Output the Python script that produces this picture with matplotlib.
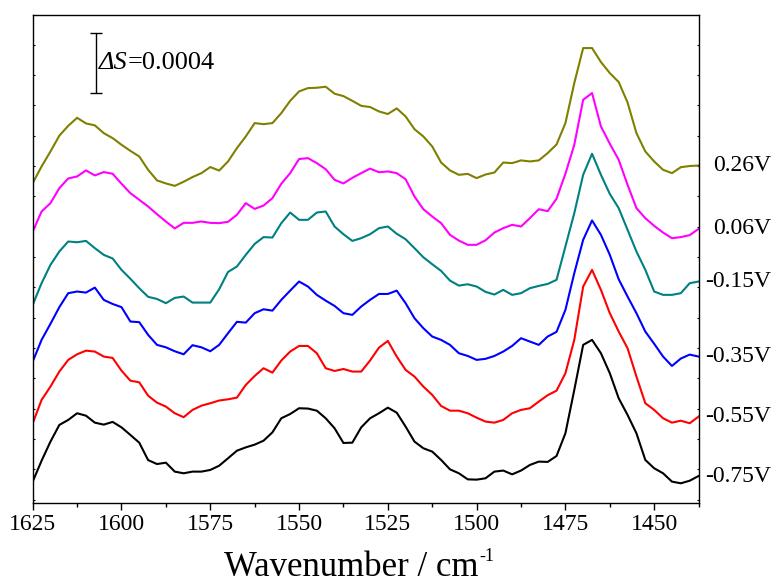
import numpy as np
import matplotlib
matplotlib.use("Agg")
import matplotlib.pyplot as plt
from matplotlib.transforms import blended_transform_factory
from matplotlib.ticker import MultipleLocator

plt.rcParams['font.family'] = ['Liberation Serif', 'DejaVu Serif']

# wavenumber grid, cm-1 (2.5 cm-1 steps from 1625 down to 1437.5)
wavenumber = np.arange(1625, 1437.4, -2.5)

# stacked difference spectra, in units of 1e-4 (offsets already applied)
s_026 = [20.87, 21.97, 22.96, 24.0, 24.65, 25.18, 24.81, 24.68, 24.17, 23.84, 23.40, 23.0, 22.63,
         21.75, 21.05, 20.85, 20.69, 20.96, 21.27, 21.53, 21.93, 21.7, 22.3, 23.18, 23.95, 24.83, 24.76,
         24.83, 25.49, 26.3, 26.92, 27.14, 27.16, 27.23, 26.77, 26.61, 26.3, 25.97, 25.89, 25.6, 25.43,
         25.8, 25.27, 24.43, 23.95, 23.29, 22.23, 21.71, 21.42, 21.48, 21.2, 21.44,
         21.57, 22.23, 22.19, 22.37, 22.3, 22.37, 22.85, 23.42, 24.83, 27.47, 29.78, 29.78, 28.86,
         28.13, 27.54, 26.19, 24.17, 22.96, 22.3, 21.75, 21.53, 21.92, 22.0, 22.03]
s_006 = [17.68, 19.0, 19.55, 20.54, 21.18, 21.31, 21.71, 21.38, 21.6, 21.49, 20.83, 20.21, 19.77,
         19.33, 18.82, 18.34, 17.88, 18.25, 18.25, 18.34, 18.25, 18.23, 18.32, 18.78, 19.55, 19.17, 19.39,
         19.88, 20.83, 21.53, 22.46, 22.52, 22.19, 21.79, 21.09, 20.85, 21.22, 21.53, 21.83, 21.59, 21.64,
         21.53, 21.13, 19.99, 19.15, 18.67, 18.23, 17.46, 17.08, 16.8, 16.8, 17.1,
         17.61, 17.9, 18.12, 18.01, 18.56, 19.15, 19.02, 19.84, 21.49, 23.4, 26.37, 26.81, 24.61,
         23.47, 22.41, 20.76, 19.22, 18.56, 18.05, 17.61, 17.24, 17.31, 17.44, 17.85]
s_m015 = [12.84, 14.27, 15.48, 16.36, 17.02, 16.97, 17.06, 16.58, 16.14, 15.9, 15.15, 14.56, 13.94,
          13.37, 13.23, 12.95, 13.3, 13.39, 12.99, 12.99, 12.99, 13.87, 15.01, 15.37, 16.14, 16.86, 17.31,
          17.28, 18.23, 18.93, 18.45, 18.45, 18.93, 19.0, 18.01, 17.5, 17.06, 17.24, 17.5, 17.9, 18.01,
          17.53, 17.17, 16.58, 15.98, 15.52, 15.08, 14.44, 14.11, 14.2, 14.05, 13.7,
          13.52, 13.83, 13.5, 13.61, 13.94, 14.09, 14.22, 14.49, 16.69, 18.89, 21.42, 22.81, 21.42,
          20.16, 19.22, 17.79, 16.36, 15.15, 13.72, 13.5, 13.5, 13.61, 14.27, 14.38]
s_m035 = [9.1, 10.53, 11.59, 12.69, 13.61, 13.72, 13.65, 13.98, 13.17, 12.9, 12.69, 11.74, 11.7,
          10.86, 10.2, 10.04, 9.78, 9.58, 10.18, 10.04, 9.78, 10.2, 10.97, 11.72, 11.67, 12.29, 12.55,
          12.46, 13.17, 13.78, 14.38, 14.05, 13.5, 13.12, 12.77, 12.29, 12.18, 12.73, 13.17, 13.56, 13.56,
          13.78, 12.95, 11.96, 11.3, 10.75, 10.53, 10.2, 9.65, 9.47, 9.21, 9.28,
          9.47, 9.76, 10.13, 10.64, 10.42, 10.2, 10.75, 11.06, 12.51, 14.93, 17.13, 18.41, 17.46,
          16.14, 14.53, 13.39, 12.29, 11.08, 10.27, 9.43, 8.81, 9.3, 9.56, 9.43]
s_m055 = [5.03, 6.57, 7.45, 8.44, 9.21, 9.58, 9.82, 9.76, 9.43, 9.34, 8.5, 7.84, 7.73,
          6.85, 6.39, 6.13, 5.69, 5.43, 5.91, 6.19, 6.35, 6.53, 6.61, 6.72, 7.56, 8.15, 8.66,
          8.37, 9.17, 9.76, 10.13, 10.13, 9.65, 8.66, 8.48, 8.61, 8.44, 8.44, 9.17, 10.02, 10.46,
          9.43, 8.55, 8.11, 7.45, 6.9, 6.17, 5.86, 5.86, 5.69, 5.4, 5.14,
          5.07, 5.25, 5.69, 5.91, 6.02, 6.46, 6.88, 7.18, 8.33, 10.53, 14.05, 15.15, 13.83,
          12.29, 11.08, 9.98, 8.11, 6.35, 5.91, 5.36, 5.07, 5.2, 5.03, 5.47]
s_m075 = [1.18, 2.56, 3.82, 4.92, 5.25, 5.69, 5.53, 5.07, 4.94, 5.12, 4.76, 4.26, 3.75,
          2.6, 2.34, 2.43, 1.84, 1.73, 1.84, 1.84, 1.95, 2.23, 2.72, 3.22, 3.44, 3.62, 3.88,
          4.43, 5.36, 5.64, 6.02, 6.0, 5.86, 5.36, 4.7, 3.73, 3.75, 4.76, 5.36, 5.69, 6.06,
          5.73, 4.81, 3.82, 3.38, 3.16, 2.61, 1.99, 1.73, 1.33, 1.31, 1.4,
          1.84, 1.91, 1.66, 1.91, 2.28, 2.5, 2.48, 2.87, 4.37, 7.23, 10.2, 10.53, 9.65,
          8.33, 6.68, 5.58, 4.37, 2.61, 2.06, 1.73, 1.18, 1.07, 1.24, 1.55]

potentials = ['0.26V', '0.06V', '-0.15V', '-0.35V', '-0.55V', '-0.75V']
spectra = [s_026, s_006, s_m015, s_m035, s_m055, s_m075]
colors = ['#808000', '#ff00ff', '#008080', '#0000ff', '#ff0000', '#000000']

unit = 1e-4          # y values are stored in units of 1e-4
bar_value = 0.0004   # scale bar

fig = plt.figure(figsize=(7.75, 5.84), dpi=100)
ax = fig.add_axes([0.0422, 0.1387, 0.8592, 0.8361])

for y, c in zip(spectra, colors):
    ax.plot(wavenumber, y, color=c, lw=1.5)

ax.set_xlim(1625, 1437.5)
ax.set_ylim(-0.23, 31.98)
ax.xaxis.set_major_locator(MultipleLocator(25))
ax.xaxis.set_minor_locator(MultipleLocator(12.5))
ax.yaxis.set_major_locator(MultipleLocator(2))

ax.tick_params(axis='x', which='major', direction='out', length=5, width=1,
               labelsize=17, pad=3, top=False)
ax.tick_params(axis='x', which='minor', direction='out', length=3, width=1, top=False)
ax.tick_params(axis='y', which='major', direction='in', length=1.5, width=0.8,
               left=True, right=True, labelleft=False)
for sp in ax.spines.values():
    sp.set_linewidth(1.0)

# potential labels to the right of the frame
tr = blended_transform_factory(fig.transFigure, ax.transData)
for y, lab in zip(spectra, potentials):
    ax.text(0.995, y[-1], lab, transform=tr, ha='right', va='center',
            fontsize=17, clip_on=False)

# scale bar
bar_x = 1607.2
bar_y0 = 26.8
bar_len = bar_value / unit
ax.errorbar([bar_x], [bar_y0 + bar_len / 2], yerr=[bar_len / 2], fmt='none',
            ecolor='black', elinewidth=1.0, capsize=4, capthick=1.0)
t1 = ax.text(1606.3, bar_y0 + bar_len / 2, '\u0394S', fontstyle='italic',
             ha='left', va='center', fontsize=19)
ax.annotate('=%g' % bar_value, xy=(1, 0), xycoords=t1, ha='left', va='bottom',
            fontsize=19)

# axis title with superscript
xl = fig.text(224 / 775, 7.5 / 584, 'Wavenumber / cm', fontsize=25,
              ha='left', va='baseline')
ax.annotate('-1', xy=(1, 0), xycoords=xl, xytext=(1, 13.7), textcoords='offset points',
            fontsize=13, ha='left', va='bottom', annotation_clip=False)

fig.savefig('out.png', dpi=100)
